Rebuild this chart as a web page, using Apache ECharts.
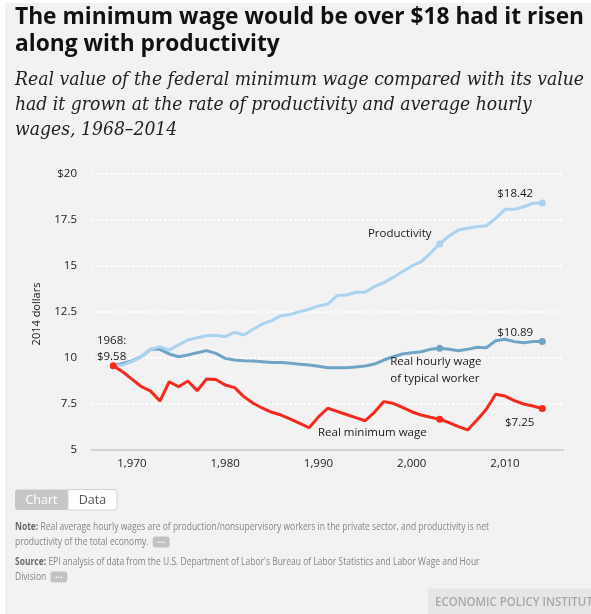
<!DOCTYPE html>
<html><head><meta charset="utf-8">
<script src="https://cdn.jsdelivr.net/npm/echarts@6/dist/echarts.min.js"></script>
<style>html,body{margin:0;padding:0;background:#fff;}#c{width:591px;height:614px;}</style>
</head><body><div id="c"></div>
<script>
// ---------- data ----------
const years = [1968,1969,1970,1971,1972,1973,1974,1975,1976,1977,1978,1979,1980,1981,1982,1983,1984,1985,1986,1987,1988,1989,1990,1991,1992,1993,1994,1995,1996,1997,1998,1999,2000,2001,2002,2003,2004,2005,2006,2007,2008,2009,2010,2011,2012,2013,2014];
const minimumWage = [9.58,9.25,8.85,8.45,8.20,7.66,8.71,8.44,8.75,8.22,8.86,8.83,8.53,8.39,7.90,7.54,7.27,7.05,6.90,6.68,6.45,6.21,6.80,7.27,7.10,6.93,6.76,6.59,7.05,7.63,7.54,7.32,7.08,6.90,6.78,6.67,6.49,6.27,6.09,6.63,7.21,8.03,7.93,7.68,7.50,7.39,7.25];
const productivity = [9.58,9.62,9.80,10.07,10.47,10.62,10.43,10.71,10.98,11.10,11.21,11.24,11.16,11.40,11.25,11.56,11.85,12.03,12.30,12.37,12.52,12.65,12.83,12.93,13.39,13.42,13.57,13.57,13.88,14.09,14.38,14.69,15.00,15.23,15.69,16.20,16.63,16.96,17.05,17.14,17.19,17.59,18.08,18.08,18.22,18.41,18.42];
const typicalWage = [9.58,9.71,9.84,10.07,10.47,10.47,10.22,10.07,10.16,10.29,10.40,10.25,9.98,9.89,9.85,9.84,9.80,9.75,9.76,9.71,9.66,9.62,9.55,9.47,9.47,9.47,9.51,9.57,9.67,9.89,10.07,10.22,10.29,10.34,10.47,10.53,10.47,10.40,10.47,10.58,10.56,10.94,11.02,10.89,10.83,10.89,10.89];
const xTickLabels = [1970,1980,1990,2000,2010];
const redMarkerYears = [1968,2003,2014];
const blueMarkerYears = [2003,2014];

const titleLines = ['The minimum wage would be over $18 had it risen','along with productivity'];
const subtitleLines = ['Real value of the federal minimum wage compared with its value','had it grown at the rate of productivity and average hourly','wages, 1968\u20132014'];

// ---------- helpers ----------
const mctx = document.createElement('canvas').getContext('2d');
function tw(text, font){ mctx.font = font; return mctx.measureText(text).width; }

const chart = echarts.init(document.getElementById('c'), null, {renderer:'canvas'});

function pairs(vals){ return years.map((y,i)=>[y, vals[i]]); }
function markerSize(list){ return function(v){ return list.indexOf(v[0])>=0 ? 7 : 0; }; }

const SANS = '"Open Sans", "Noto Sans", sans-serif';

chart.setOption({
  animation:false,
  grid:{left:92,right:28,top:174,bottom:164,containLabel:false},
  xAxis:{type:'value',min:1965.72,max:2016.22,
    axisLine:{lineStyle:{color:'#d2d2d2',width:2}},
    axisTick:{show:false},splitLine:{show:false},
    axisLabel:{customValues:xTickLabels,color:'#222',fontSize:11.5,fontFamily:SANS,margin:8}},
  yAxis:{type:'value',min:5,max:20,interval:2.5,
    axisLine:{show:false},axisTick:{show:false},
    splitLine:{lineStyle:{color:'#ffffff',width:2,type:[2,2.5]}},
    axisLabel:{color:'#222',fontSize:11.5,fontFamily:SANS,margin:15,
      formatter:v=> v===20?'$20':String(v)}},
  series:[
    {name:'Real hourly wage of typical worker',type:'line',data:pairs(typicalWage),
     lineStyle:{color:'#6fa4c7',width:3},itemStyle:{color:'#6fa4c7'},
     symbol:'circle',symbolSize:markerSize(blueMarkerYears),showSymbol:true,z:2},
    {name:'Productivity',type:'line',data:pairs(productivity),
     lineStyle:{color:'#a9d3f0',width:3},itemStyle:{color:'#a9d3f0'},
     symbol:'circle',symbolSize:markerSize(blueMarkerYears),showSymbol:true,z:3},
    {name:'Real minimum wage',type:'line',data:pairs(minimumWage),
     lineStyle:{color:'#f7291c',width:3},itemStyle:{color:'#f7291c'},
     symbol:'circle',symbolSize:markerSize(redMarkerYears),showSymbol:true,z:4}
  ]
});

// ---------- graphics ----------
const g = [];
g.push({type:'rect',shape:{x:5,y:3,width:586,height:611},style:{fill:'#f2f2f2'},z:-10,silent:true});

// title
const titleFont = 'bold 23.5px '+SANS;
const tScale = 569/tw(titleLines[0], titleFont);
titleLines.forEach((t,i)=>g.push({type:'text',x:15,y:17.5+i*26.5,scaleX:tScale,
  style:{text:t,font:titleFont,fill:'#111',textVerticalAlign:'middle',verticalAlign:'middle'}}));

// subtitle
const subFont = 'italic 18.5px "DejaVu Serif", Georgia, serif';
const sScale = 569/tw(subtitleLines[0], subFont);
subtitleLines.forEach((t,i)=>g.push({type:'text',x:15,y:80.5+i*24.8,scaleX:sScale,
  style:{text:t,font:subFont,fill:'#222',textVerticalAlign:'middle',verticalAlign:'middle'}}));

// y axis name
g.push({type:'text',x:37,y:314,rotation:Math.PI/2,
  style:{text:'2014 dollars',font:'11px '+SANS,fill:'#222',textAlign:'center',align:'center',textVerticalAlign:'middle',verticalAlign:'middle'}});

// annotations anchored in data space
const annFont = '11.5px '+SANS;
function ann(text, yr, val, align){
  const p = chart.convertToPixel({gridIndex:0},[yr,val]);
  g.push({type:'text',x:p[0],y:p[1],z:10,
    style:{text:text,font:annFont,fill:'#1a1a1a',textAlign:align||'left',align:align||'left',textVerticalAlign:'middle',verticalAlign:'middle'}});
}
ann('Productivity',1995.3,16.74);
ann('$18.42',2011.1,18.91,'center');
ann('1968:',1966.25,10.94);
ann('$9.58',1966.25,10.07);
ann('$10.89',2011.1,11.36,'center');
ann('Real hourly wage',1997.7,9.78);
ann('of typical worker',1997.7,8.86);
ann('Real minimum wage',1989.95,5.92);
ann('$7.25',2010.0,6.47);

// chart/data toggle
g.push({type:'rect',shape:{x:15,y:489.5,width:53,height:20.5,r:[3,0,0,3]},style:{fill:'#c6c6c6'}});
g.push({type:'rect',shape:{x:68,y:489.5,width:49,height:20.5,r:[0,3,3,0]},style:{fill:'#ffffff',stroke:'#d4d4d4',lineWidth:1}});
g.push({type:'text',x:41.5,y:500,style:{text:'Chart',font:'12.5px '+SANS,fill:'#ffffff',textAlign:'center',align:'center',textVerticalAlign:'middle',verticalAlign:'middle'}});
g.push({type:'text',x:92.5,y:500,style:{text:'Data',font:'12.5px '+SANS,fill:'#555',textAlign:'center',align:'center',textVerticalAlign:'middle',verticalAlign:'middle'}});

// notes
const nb = 'bold 11px '+SANS, nn = '11px '+SANS;
const noteW = tw('Note: ', nb) + tw('Real average hourly wages are of production/nonsupervisory workers in the private sector, and productivity is net', nn);
const nScale = 474/noteW;
const rich = {b:{font:nb,fill:'#6a6a6a'},n:{font:nn,fill:'#858585'}};
function noteLine(y, str){
  g.push({type:'text',x:15,y:y,scaleX:nScale,style:{text:str,rich:rich,font:nn,fill:'#858585',textVerticalAlign:'middle',verticalAlign:'middle'}});
}
noteLine(527,'{b|Note:}{n| Real average hourly wages are of production/nonsupervisory workers in the private sector, and productivity is net}');
noteLine(542,'{n|productivity of the total economy.}');
noteLine(562,'{b|Source:}{n| EPI analysis of data from the U.S. Department of Labor\'s Bureau of Labor Statistics and Labor Wage and Hour}');
noteLine(577,'{n|Division}');
// "..." pills
function pill(x,y){
  g.push({type:'rect',shape:{x:x,y:y-5.5,width:17,height:11,r:3},style:{fill:'#c2c2c2'}});
  g.push({type:'text',x:x+8.5,y:y-1.5,style:{text:'...',font:'bold 9px '+SANS,fill:'#ffffff',textAlign:'center',align:'center',textVerticalAlign:'middle',verticalAlign:'middle'}});
}
pill(15+nScale*tw('productivity of the total economy. ',nn)+2,542);
pill(15+nScale*tw('Division ',nn)+2,577);

// watermark
g.push({type:'rect',shape:{x:428,y:588.5,width:163,height:26},style:{fill:'#e6e6e6'}});
const wFont = '600 12.5px '+SANS;
const wScale = 164/tw('ECONOMIC POLICY INSTITUTE', wFont);
g.push({type:'text',x:435,y:602,scaleX:wScale,style:{text:'ECONOMIC POLICY INSTITUTE',font:wFont,fill:'#a8a8a8',textVerticalAlign:'middle',verticalAlign:'middle'}});

chart.setOption({graphic:g});
</script></body></html>
